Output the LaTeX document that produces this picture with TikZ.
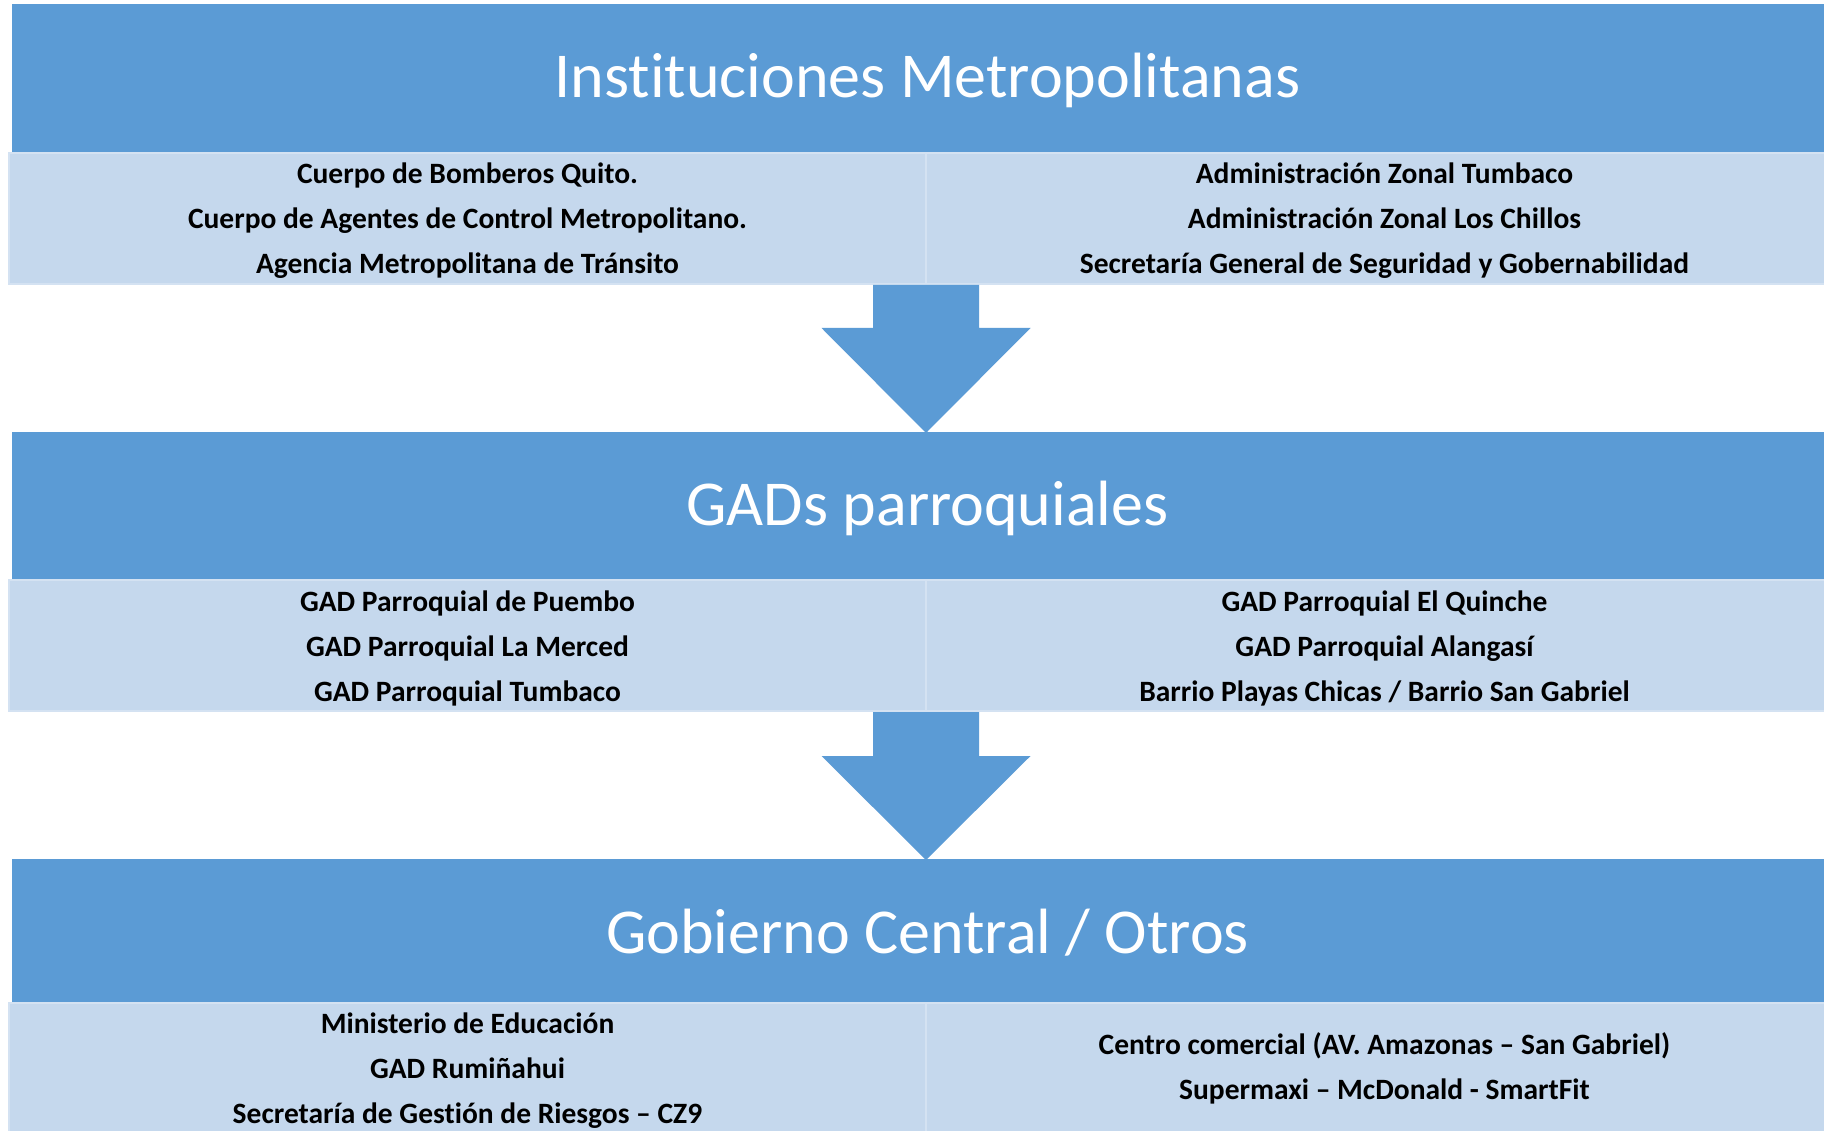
\documentclass[tikz,border=0pt]{standalone}
\usepackage{fontspec}
\setmainfont{Carlito}[Ligatures=NoCommon]
\definecolor{hdrblue}{HTML}{5B9BD5}
\definecolor{bandblue}{HTML}{C5D8ED}
\definecolor{bandedge}{HTML}{D4E2F2}
\tikzset{
  hdrbox/.style={rectangle, fill=hdrblue, draw=none, inner sep=0pt,
    minimum width=1831pt, minimum height=148pt},
  hdrtext/.style={inner sep=0pt, text=white, yshift=-2pt,
    font=\fontsize{64}{70}\selectfont},
  cellbox/.style={rectangle, fill=bandblue, draw=bandedge, line width=1.5pt, inner sep=0pt,
    minimum width=917pt, minimum height=131pt},
  celltext/.style={inner sep=0pt, text=black, align=center, yshift=-2.5pt,
    font=\fontsize{29.5}{45}\selectfont\bfseries},
  blockarrow/.style={fill=hdrblue, draw=none}
}
\begin{document}
\begin{tikzpicture}[x=1pt,y=-1pt]
\useasboundingbox (0,0) rectangle (1824,1131);
\clip (0,0) rectangle (1824,1131);
\fill[white] (0,0) rectangle (1824,1131);

% level 1
\node[hdrbox] (h1) at (927.5,78.5) {};
\node[hdrtext] (h1t) at (h1.center) {Instituciones Metropolitanas};
\node[cellbox] (c1l) at (467.5,218.5) {};
\node[cellbox] (c1r) at (1384.5,218.5) {};
\node[celltext] (c1lt) at (c1l.center) {Cuerpo de Bomberos Quito.\\Cuerpo de Agentes de Control Metropolitano.\\Agencia Metropolitana de Tránsito};
\node[celltext] (c1rt) at (c1r.center) {Administración Zonal Tumbaco\\Administración Zonal Los Chillos\\Secretaría General de Seguridad y Gobernabilidad};

% arrow 1
\fill[blockarrow] (873,285) -- (979,285) -- (979,328) -- (1030.5,328) -- (926,433) -- (821.5,328) -- (873,328) -- cycle;

% level 2
\node[hdrbox] (h2) at (927.5,506) {};
\node[hdrtext] (h2t) at (h2.center) {GADs parroquiales};
\node[cellbox] (c2l) at (467.5,645.5) {};
\node[cellbox] (c2r) at (1384.5,645.5) {};
\node[celltext] (c2lt) at (c2l.center) {GAD Parroquial de Puembo\\GAD Parroquial La Merced\\GAD Parroquial Tumbaco};
\node[celltext] (c2rt) at (c2r.center) {GAD Parroquial El Quinche\\GAD Parroquial Alangasí\\Barrio Playas Chicas / Barrio San Gabriel};

% arrow 2
\fill[blockarrow] (873,712) -- (979,712) -- (979,756) -- (1030.5,756) -- (926,860) -- (821.5,756) -- (873,756) -- cycle;

% level 3
\node[hdrbox, minimum height=144pt] (h3) at (927.5,931) {};
\node[hdrtext] (h3t) at (h3.center) {Gobierno Central / Otros};
\node[cellbox] (c3l) at (467.5,1068.5) {};
\node[cellbox] (c3r) at (1384.5,1068.5) {};
\node[celltext] (c3lt) at (c3l.center) {Ministerio de Educación\\GAD Rumiñahui\\Secretaría de Gestión de Riesgos – CZ9};
\node[celltext, yshift=2.5pt] (c3rt) at (c3r.center) {Centro comercial (AV. Amazonas – San Gabriel)\\Supermaxi – McDonald - SmartFit};
\end{tikzpicture}
\end{document}
